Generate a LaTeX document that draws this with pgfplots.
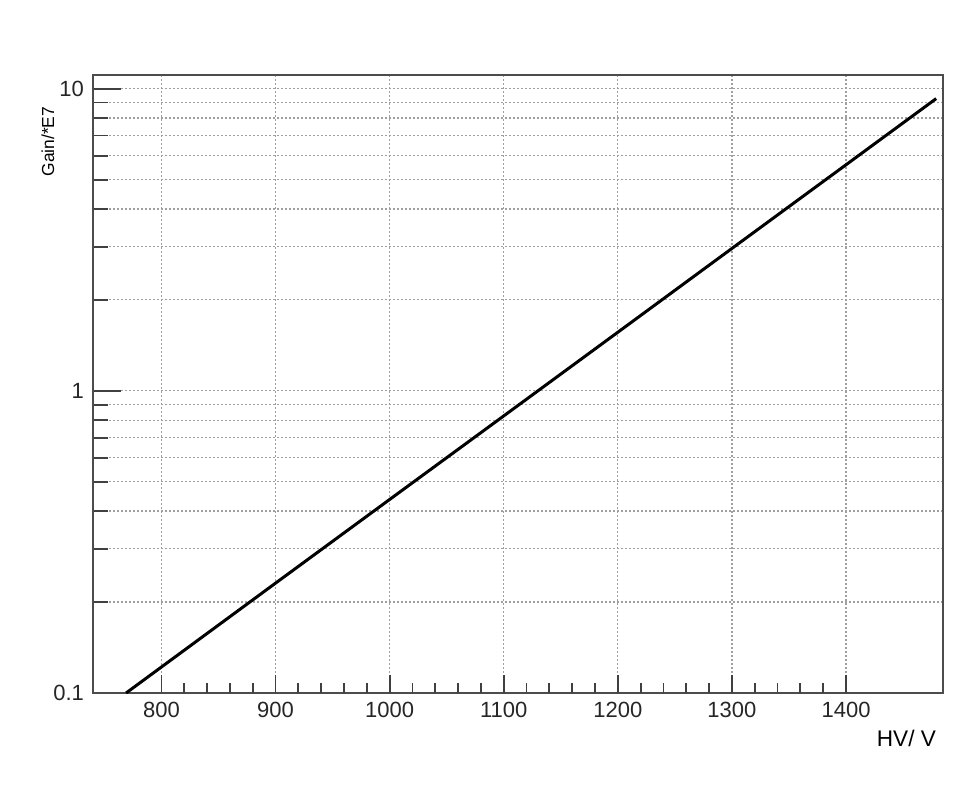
\documentclass[border=0pt]{standalone}
\usepackage{fontspec}
\setmainfont{Liberation Sans}
\usepackage{pgfplots}
\pgfplotsset{compat=1.18}
\begin{document}
\begin{tikzpicture}
\path[use as bounding box] (-46.5pt,-51.5pt) rectangle (437.5pt,346.5pt);
% frame, grid, y ticks and the curve
\begin{axis}[
  at={(0,0)}, anchor=south west,
  scale only axis, width=425pt, height=309pt,
  xmin=740, xmax=1485,
  ymode=log, ymin=0.1, ymax=11.1,
  tick pos=left, tick align=inside,
  every tick/.style={gray!50!black, line width=0.9pt},
  /pgf/number format/assume math mode=true,
  /pgf/number format/1000 sep={},
  ticklabel style={font=\fontsize{11}{13}\selectfont, text=black!85},
  axis line style={gray!60!black, line width=0.9pt},
  xtick={800,900,...,1400}, xticklabels={},
  xtick style={draw=none},
  ytick={0.1,1,10}, yticklabels={0.1,1,10},
  major tick length=14pt, minor tick length=7.5pt,
  xmajorgrids, ymajorgrids, yminorgrids,
  grid style={gray!75, line width=0.6pt, dash pattern=on 1pt off 1pt},
  yticklabel style={xshift=-1pt},
  ylabel={Gain/*E7},
  ylabel style={at={(axis description cs:-0.053,0.96)}, anchor=east,
    font=\fontsize{8.7}{10}\selectfont},
]
\addplot[black, line width=1.5pt] coordinates {
  (769,0.100) (900,0.231) (1000,0.437) (1100,0.826) (1200,1.563)
  (1300,2.96) (1400,5.60) (1479,9.27)
};
\end{axis}
% x ticks with their own lengths
\begin{axis}[
  at={(0,0)}, anchor=south west,
  scale only axis, width=425pt, height=309pt,
  xmin=740, xmax=1485,
  ymode=log, ymin=0.1, ymax=11.1,
  tick pos=left, tick align=inside,
  every tick/.style={gray!50!black, line width=0.9pt},
  /pgf/number format/assume math mode=true,
  /pgf/number format/1000 sep={},
  ticklabel style={font=\fontsize{11}{13}\selectfont, text=black!85},
  axis line style={draw=none},
  ytick=\empty,
  xtick={800,900,...,1400}, minor x tick num=4,
  major tick length=9pt, minor tick length=5pt,
  xticklabel style={yshift=-1pt},
  xlabel={HV/ V},
  xlabel style={at={(axis description cs:1,0)}, anchor=east,
    yshift=-22.5pt, font=\fontsize{11.3}{13}\selectfont},
]
\end{axis}
\end{tikzpicture}
\end{document}
